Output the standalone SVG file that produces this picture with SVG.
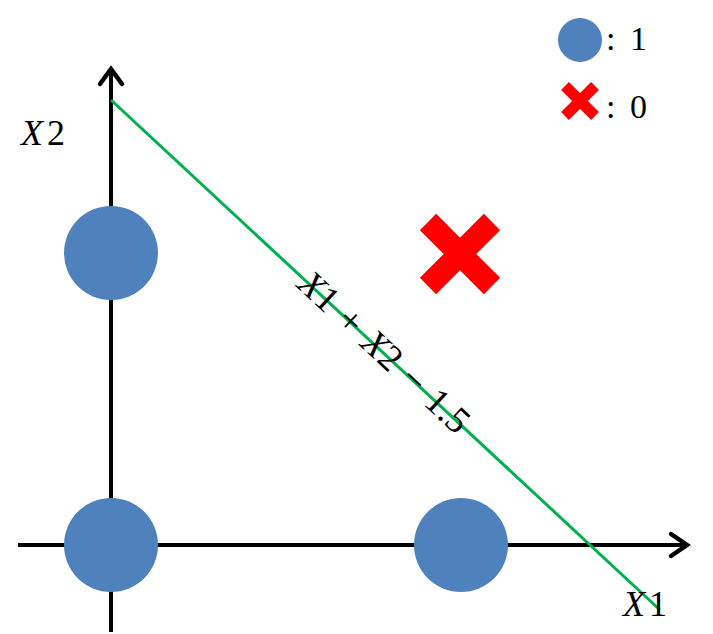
<svg xmlns="http://www.w3.org/2000/svg" width="713" height="634" viewBox="0 0 713 634">
<style>
.axis{stroke:#000;stroke-width:4;fill:none}
.head{stroke:#000;stroke-width:4.5;fill:none;stroke-linecap:round;stroke-linejoin:miter}
.pt{fill:#4F81BD}
.cross{stroke:#FF0000;fill:none}
text{font-family:"Liberation Serif","Times New Roman",serif;fill:#000}
.i{font-style:italic}
.leg{font-size:34px}
.ax{font-size:36px;letter-spacing:4px}
.eq{font-size:37px;word-spacing:3px}
</style>
<rect width="713" height="634" fill="#fff"/>
<g id="connectors">
<line class="axis" x1="111" y1="632" x2="111" y2="70"/>
<polyline class="head" points="100,84 111,69 122,84"/>
<line class="axis" x1="18" y1="545" x2="686" y2="545"/>
<polyline class="head" points="671,534 687,545 671,556"/>
<line x1="111" y1="100" x2="660" y2="610" stroke="#00B050" stroke-width="3"/>
</g>
<g id="p01"><circle class="pt" cx="111" cy="253" r="47"/></g>
<g id="p00"><circle class="pt" cx="111" cy="545" r="47"/></g>
<g id="p10"><circle class="pt" cx="461" cy="545" r="47"/></g>
<g id="p11">
<line class="cross" x1="428" y1="222" x2="492" y2="286" stroke-width="23"/>
<line class="cross" x1="492" y1="222" x2="428" y2="286" stroke-width="23"/>
</g>
<g id="legend">
<circle class="pt" cx="580" cy="40" r="22"/>
<text class="leg" x="606" y="50">:<tspan x="630">1</tspan></text>
<line class="cross" x1="565" y1="86" x2="595" y2="116" stroke-width="11"/>
<line class="cross" x1="595" y1="86" x2="565" y2="116" stroke-width="11"/>
<text class="leg" x="606" y="118">:<tspan x="630">0</tspan></text>
</g>
<g id="labels">
<text class="ax" x="21" y="145"><tspan class="i">X</tspan>2</text>
<text class="ax" x="623" y="616"><tspan class="i">X</tspan>1</text>
<text class="eq" text-anchor="middle" transform="translate(376,361) rotate(42.9)"><tspan class="i">X</tspan>1 + <tspan class="i">X</tspan>2 − 1.5</text>
</g>
</svg>
